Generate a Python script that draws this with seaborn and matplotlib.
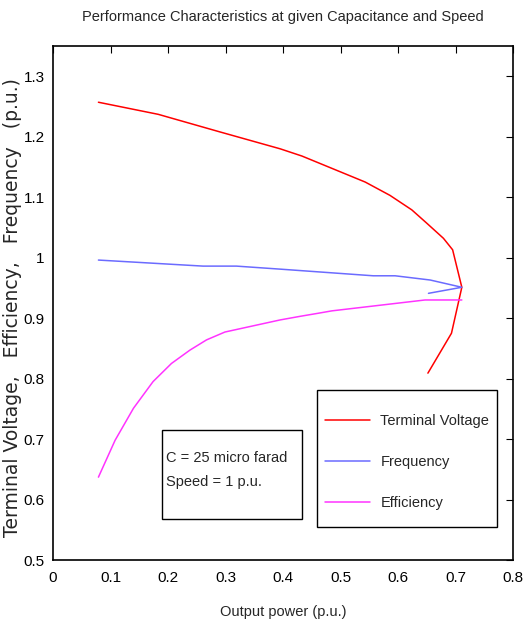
import matplotlib
matplotlib.use("Agg")
import matplotlib.pyplot as plt
import pandas as pd
import seaborn as sns

sns.set_theme(style="white")
plt.rcParams["font.family"] = ["Liberation Sans", "DejaVu Sans"]

# output power (p.u.) and curves
voltage_p = [0.079, 0.183, 0.290, 0.395, 0.433, 0.543, 0.586, 0.624, 0.650, 0.679, 0.695, 0.711, 0.693, 0.652]
voltage_v = [1.257, 1.237, 1.208, 1.180, 1.168, 1.125, 1.103, 1.079, 1.057, 1.032, 1.013, 0.951, 0.875, 0.809]

freq_p = [0.079, 0.261, 0.319, 0.395, 0.557, 0.595, 0.656, 0.711, 0.653]
freq_v = [0.996, 0.986, 0.986, 0.981, 0.970, 0.970, 0.963, 0.951, 0.941]

eff_p = [0.079, 0.108, 0.140, 0.174, 0.206, 0.238, 0.267, 0.299, 0.395, 0.430, 0.461, 0.485, 0.647, 0.711]
eff_v = [0.637, 0.698, 0.751, 0.795, 0.825, 0.847, 0.864, 0.877, 0.897, 0.903, 0.908, 0.912, 0.930, 0.930]

series = ["Terminal Voltage", "Frequency", "Efficiency"]
colors = ["#ff0000", "#6b6bff", "#ff33ff"]

frames = []
for name, p, v in zip(series, [voltage_p, freq_p, eff_p], [voltage_v, freq_v, eff_v]):
    frames.append(pd.DataFrame({"power": p, "value": v, "curve": name}))
df = pd.concat(frames, ignore_index=True)

fig = plt.figure(figsize=(5.23, 6.33), dpi=100)
ax = fig.add_axes([53 / 523, 1 - 560 / 633, 460 / 523, 514 / 633])

sns.lineplot(data=df, x="power", y="value", hue="curve", palette=dict(zip(series, colors)),
             sort=False, estimator=None, units="curve", linewidth=1.1, ax=ax, legend=False)

ax.set_xlim(0, 0.8)
ax.set_ylim(0.5, 1.35)
ax.set_xticks([0, 0.1, 0.2, 0.3, 0.4, 0.5, 0.6, 0.7, 0.8])
ax.set_xticklabels(["0", "0.1", "0.2", "0.3", "0.4", "0.5", "0.6", "0.7", "0.8"])
ax.set_yticks([0.5, 0.6, 0.7, 0.8, 0.9, 1.0, 1.1, 1.2, 1.3])
ax.set_yticklabels(["0.5", "0.6", "0.7", "0.8", "0.9", "1", "1.1", "1.2", "1.3"])
ax.tick_params(direction="in", length=5, width=0.8, top=True, right=True,
               labelsize=11, colors="black")
ax.tick_params(axis="x", pad=8)
ax.tick_params(axis="y", pad=6)
for s in ax.spines.values():
    s.set_color("black")
    s.set_linewidth(1.2)

ax.set_title("Performance Characteristics at given Capacitance and Speed", fontsize=10.5, pad=18)
ax.set_xlabel("Output power (p.u.)", fontsize=10.5, labelpad=14)
ax.set_ylabel("Terminal Voltage,   Efficiency,   Frequency   (p.u.)", fontsize=13.5,
              family="DejaVu Sans")
ax.yaxis.set_label_coords(-0.067, 0.491)

handles = [plt.Line2D([], [], color=c, linewidth=1.1) for c in colors]
leg = ax.legend(handles, series, loc="center left", bbox_to_anchor=(0.591, 0.191),
                fontsize=10.5, frameon=False, handlelength=3.1, labelspacing=1.85,
                borderpad=0, handletextpad=0.7, borderaxespad=0)
ax.add_patch(plt.Rectangle((0.573, 0.065), 0.392, 0.266, transform=ax.transAxes,
                           fill=False, edgecolor="black", linewidth=1.0))

ax.text(0.2457, 0.198, "C = 25 micro farad", transform=ax.transAxes,
        fontsize=10.5, va="center", ha="left")
ax.text(0.2457, 0.152, "Speed = 1 p.u.", transform=ax.transAxes,
        fontsize=10.5, va="center", ha="left")
ax.add_patch(plt.Rectangle((0.2365, 0.08), 0.3045, 0.172, transform=ax.transAxes,
                           fill=False, edgecolor="black", linewidth=1.0))

fig.savefig("out.png", dpi=100, facecolor="white")
